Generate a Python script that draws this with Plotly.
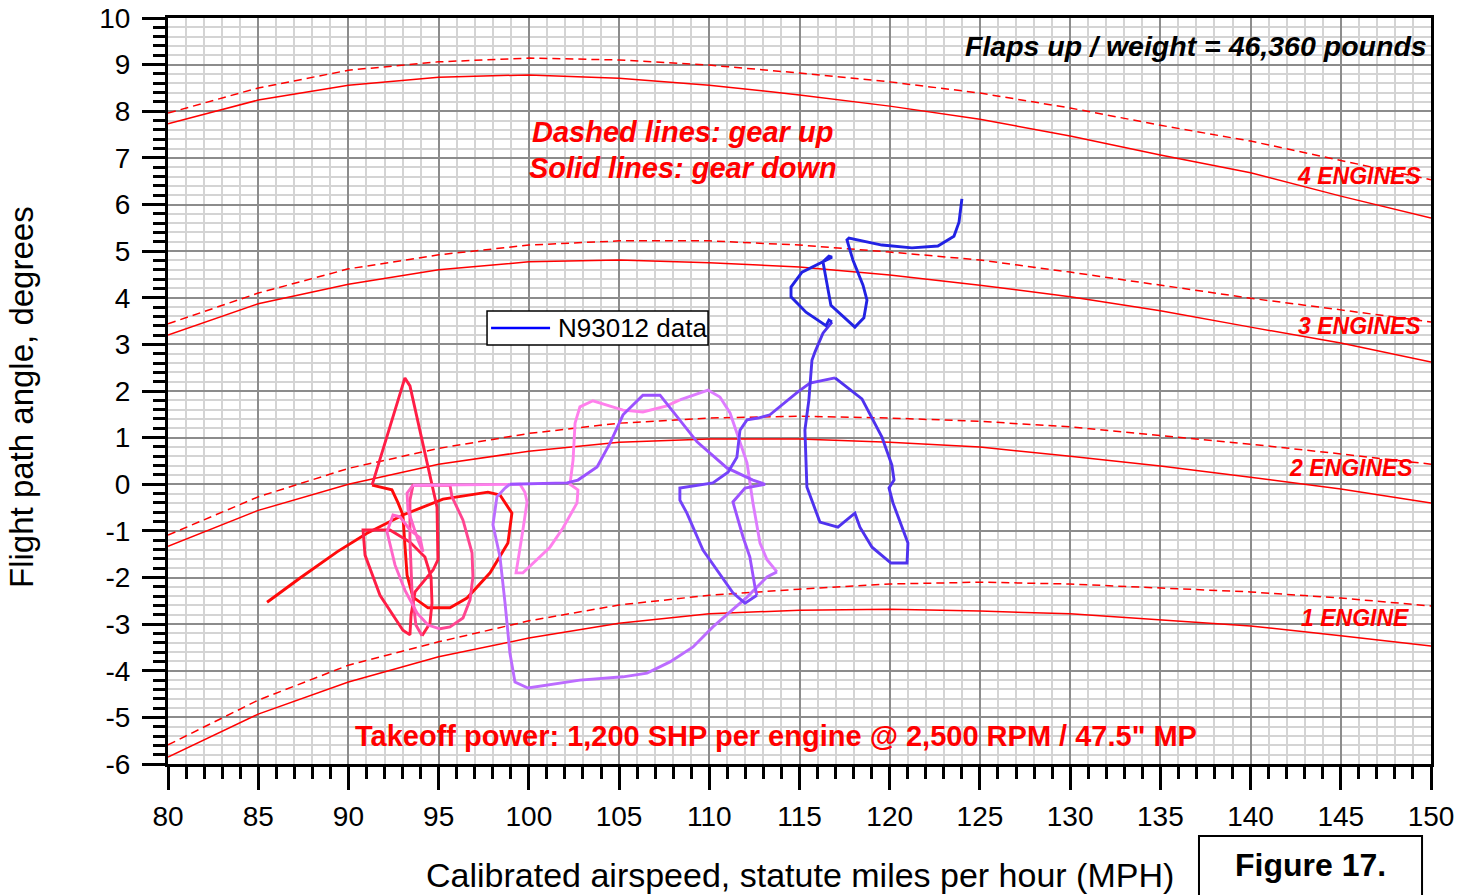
import plotly.graph_objects as go

# ---------------- Engine performance curves ----------------
speed_mph = [80, 85, 90, 95, 100, 105, 110, 115, 120, 125, 130, 135, 140, 145, 150]

eng4_down = [7.73, 8.24, 8.56, 8.73, 8.78, 8.71, 8.56, 8.35, 8.11, 7.83, 7.47, 7.06, 6.68, 6.18, 5.71]
eng4_up   = [7.96, 8.50, 8.88, 9.06, 9.14, 9.10, 8.99, 8.82, 8.63, 8.39, 8.07, 7.70, 7.36, 6.95, 6.53]
eng3_down = [3.20, 3.87, 4.29, 4.60, 4.77, 4.81, 4.75, 4.66, 4.49, 4.27, 4.02, 3.72, 3.37, 3.03, 2.62]
eng3_up   = [3.44, 4.10, 4.62, 4.92, 5.13, 5.22, 5.22, 5.13, 4.98, 4.81, 4.55, 4.27, 3.99, 3.74, 3.48]
eng2_down = [-1.33, -0.56, 0.00, 0.43, 0.71, 0.90, 0.97, 0.97, 0.90, 0.80, 0.60, 0.39, 0.15, -0.10, -0.40]
eng2_up   = [-1.09, -0.27, 0.34, 0.77, 1.09, 1.31, 1.42, 1.46, 1.42, 1.35, 1.23, 1.05, 0.86, 0.65, 0.43]
eng1_down = [-5.85, -4.93, -4.24, -3.70, -3.30, -2.98, -2.78, -2.70, -2.68, -2.72, -2.78, -2.91, -3.04, -3.25, -3.47]
eng1_up   = [-5.59, -4.63, -3.88, -3.38, -2.93, -2.59, -2.38, -2.25, -2.14, -2.10, -2.14, -2.23, -2.31, -2.44, -2.61]

# ---------------- N93012 flight data (pieces in time order) ----------------
red_mph = [85.49, 87.32, 89.37, 91.03, 93.02, 95.24, 97.73, 98.40, 99.06, 98.84, 97.85, 96.57, 95.63,
           94.41, 93.58, 93.25, 93.13, 93.02, 92.75, 92.41, 91.31]
red_deg = [-2.53, -2.01, -1.45, -1.05, -0.66, -0.32, -0.17, -0.23, -0.62, -1.26, -1.90, -2.44, -2.65,
           -2.65, -2.42, -1.95, -1.30, -0.66, -0.40, -0.12, -0.02]

crimson_mph = [91.31, 93.13, 93.41, 94.24, 94.91, 94.96, 94.69, 93.69, 93.47, 93.41, 93.02, 91.75, 90.92,
               90.81, 92.30, 93.41, 94.24, 94.58, 94.63, 94.52, 94.08]
crimson_deg = [-0.02, 2.28, 2.11, 0.67, -0.49, -1.62, -1.84, -2.31, -2.80, -3.23, -3.13, -2.38, -1.52,
               -0.98, -0.98, -1.24, -1.56, -1.99, -2.55, -2.98, -3.25]

hotpink_mph = [94.08, 93.74, 93.52, 93.41, 93.41, 93.58, 95.63, 95.74, 96.35, 96.85, 96.90, 96.74, 96.35,
               95.63, 95.07]
hotpink_deg = [-3.25, -3.02, -2.27, -1.20, -0.34, -0.02, -0.02, -0.27, -0.77, -1.47, -1.99, -2.48, -2.87,
               -3.06, -3.10]

pink_mph = [95.07, 94.41, 93.80, 93.13, 92.58, 92.14, 92.47, 92.86, 93.41, 93.97, 94.13, 93.86, 93.30,
            93.25, 93.58]
pink_deg = [-3.10, -3.02, -2.76, -2.27, -1.73, -1.02, -0.66, -0.70, -0.98, -1.15, -1.45, -1.20, -0.55,
            -0.19, -0.02]

lightpink_mph = [93.58, 97.29, 99.51, 99.78, 99.90, 99.67, 99.51, 99.29, 99.67, 101.17, 101.89, 102.67,
                 102.72, 102.28, 102.45, 102.56, 102.83, 103.55, 105.22, 106.32, 107.65, 108.37]
lightpink_deg = [-0.02, 0.00, 0.00, -0.17, -0.38, -0.98, -1.35, -1.90, -1.90, -1.35, -0.94, -0.40,
                 -0.12, 0.00, 0.52, 1.31, 1.66, 1.79, 1.59, 1.55, 1.68, 1.81]

lilac_mph = [108.37, 109.93, 110.59, 111.15, 111.53, 112.09, 112.42, 112.81, 113.20, 113.75]
lilac_deg = [1.81, 2.02, 1.87, 1.53, 1.10, 0.46, -0.40, -1.26, -1.62, -1.88]

lightviolet_mph = [113.75, 113.20, 112.09, 110.20, 109.10, 107.82, 106.55, 105.22, 102.83, 99.95, 99.23,
                   98.95, 98.68, 98.40, 98.01, 98.23, 98.68, 98.95]
lightviolet_deg = [-1.88, -1.99, -2.42, -3.06, -3.49, -3.81, -4.05, -4.13, -4.20, -4.37, -4.24,
                   -3.62, -2.55, -1.56, -0.87, -0.27, -0.08, 0.00]

violet_mph = [98.95, 102.11, 102.72, 103.78, 104.50, 105.22, 106.32, 107.27, 109.32, 110.98, 112.42,
              113.09, 111.98, 111.31, 111.87, 112.25, 112.53, 112.64]
violet_deg = [0.00, 0.03, 0.09, 0.37, 0.88, 1.49, 1.91, 1.91, 0.91, 0.35, 0.09,
              0.00, -0.08, -0.38, -1.13, -1.56, -2.20, -2.38]

purple_mph = [112.64, 111.98, 111.31, 109.65, 108.76, 108.37, 108.37, 110.20, 111.04, 111.53, 111.70,
              112.09, 112.70, 113.36, 114.91, 115.58, 116.97]
purple_deg = [-2.38, -2.55, -2.33, -1.41, -0.62, -0.34, -0.08, 0.03, 0.26, 0.58, 1.16,
              1.38, 1.42, 1.49, 1.98, 2.17, 2.28]

blueviolet_mph = [116.97, 118.46, 119.57, 120.12, 120.24, 119.96, 120.18, 121.01, 120.96, 120.07, 119.02,
                  118.35, 118.07, 117.13, 116.13, 115.41, 115.30, 115.52, 115.69, 115.86, 116.30, 116.80]
blueviolet_deg = [2.28, 1.83, 1.01, 0.41, 0.09, -0.08, -0.40, -1.26, -1.69, -1.69, -1.35,
                  -0.92, -0.62, -0.92, -0.81, -0.06, 1.16, 1.81, 2.66, 2.84, 3.24, 3.48]

blue_mph = [116.80, 116.63, 116.47, 115.36, 114.53, 114.53, 115.14, 116.52, 116.80, 116.63, 116.30, 116.74,
            118.07, 118.57, 118.74, 118.52, 117.96, 117.63, 117.74, 119.57, 121.23, 122.67, 123.56, 123.84,
            124.00]
blue_deg = [3.48, 3.52, 3.40, 3.69, 4.02, 4.23, 4.55, 4.81, 4.87, 4.89, 4.77, 3.84,
            3.37, 3.57, 3.95, 4.27, 4.81, 5.24, 5.28, 5.13, 5.07, 5.11, 5.32, 5.62,
            6.12]

x_ticks = list(range(80, 151, 5))
y_ticks = list(range(-6, 11, 1))
x_ticktext = [str(v) for v in x_ticks]
y_ticktext = [str(v) for v in y_ticks]   # plain hyphen minus, as in the original

FONT = "Liberation Sans, Arial, sans-serif"
RED = "#FF0000"

fig = go.Figure()

curves = [(eng4_down, eng4_up), (eng3_down, eng3_up), (eng2_down, eng2_up), (eng1_down, eng1_up)]
for down, up in curves:
    fig.add_trace(go.Scatter(x=speed_mph, y=up, mode="lines", showlegend=False, hoverinfo="skip",
                             line=dict(color=RED, width=1.5, dash="8px,5px")))
    fig.add_trace(go.Scatter(x=speed_mph, y=down, mode="lines", showlegend=False, hoverinfo="skip",
                             line=dict(color=RED, width=1.5)))

pieces = [
    (red_mph, red_deg, "#FF0A0A"),
    (crimson_mph, crimson_deg, "#FF1E46"),
    (hotpink_mph, hotpink_deg, "#FF4590"),
    (pink_mph, pink_deg, "#FF66C8"),
    (lightpink_mph, lightpink_deg, "#FF80EC"),
    (lilac_mph, lilac_deg, "#DE7CFF"),
    (lightviolet_mph, lightviolet_deg, "#BC6CFF"),
    (violet_mph, violet_deg, "#9C52FF"),
    (purple_mph, purple_deg, "#7442FA"),
    (blueviolet_mph, blueviolet_deg, "#4E32EE"),
    (blue_mph, blue_deg, "#2222E4"),
]
for xs, ys, col in pieces:
    fig.add_trace(go.Scatter(x=xs, y=ys, mode="lines", showlegend=False,
                             line=dict(color=col, width=2.9)))

axis_common = dict(
    showline=True, linewidth=3, linecolor="black", mirror=True,
    ticks="outside", ticklen=23, tickwidth=3, tickcolor="black",
    showgrid=True, gridcolor="#8c8c8c", gridwidth=1.5,
    zeroline=False, automargin=False,
    tickfont=dict(family=FONT, size=28, color="black"),
)

fig.update_xaxes(range=[80, 150], tickvals=x_ticks, ticktext=x_ticktext, ticklabelstandoff=2,
                 minor=dict(dtick=1, ticks="outside", ticklen=12, tickwidth=3, tickcolor="black",
                            showgrid=True, gridcolor="#d4d4d4", gridwidth=2),
                 **axis_common)
fig.update_yaxes(range=[-6, 10], tickvals=y_ticks, ticktext=y_ticktext, ticklabelstandoff=6,
                 minor=dict(dtick=0.2, ticks="outside", ticklen=12, tickwidth=3, tickcolor="black",
                            showgrid=True, gridcolor="#d4d4d4", gridwidth=2),
                 **axis_common)

annotations = [
    dict(x=149.88, y=9.40, text="<b><i>Flaps up / weight = 46,360 pounds</i></b>", xanchor="right",
         font=dict(size=28.5, color="black")),
    dict(x=108.54, y=7.55, text="<b><i>Dashed lines: gear up</i></b>", font=dict(size=29, color=RED)),
    dict(x=108.54, y=6.78, text="<b><i>Solid lines: gear down</i></b>", font=dict(size=29, color=RED)),
    dict(x=113.7, y=-5.40, text="<b>Takeoff power: 1,200 SHP per engine @ 2,500 RPM / 47.5\" MP</b>",
         font=dict(size=29, color=RED)),
    dict(x=149.55, y=6.61, text="<b><i>4 ENGINES</i></b>", xanchor="right", font=dict(size=23, color=RED)),
    dict(x=149.55, y=3.39, text="<b><i>3 ENGINES</i></b>", xanchor="right", font=dict(size=23, color=RED)),
    dict(x=149.1, y=0.35, text="<b><i>2 ENGINES</i></b>", xanchor="right", font=dict(size=23, color=RED)),
    dict(x=148.9, y=-2.87, text="<b><i>1 ENGINE</i></b>", xanchor="right", font=dict(size=23, color=RED)),
    dict(xref="paper", yref="paper", x=-0.1156, y=0.492, text="Flight path angle, degrees",
         textangle=-90, xanchor="center", yanchor="middle", font=dict(size=33, color="black")),
    dict(xref="paper", yref="paper", x=0.5004, y=-0.1488, xanchor="center", yanchor="middle",
         text="Calibrated airspeed, statute miles per hour (MPH)", font=dict(size=34, color="black")),
    dict(xref="paper", yref="paper", x=0.9042, y=-0.1354, xanchor="center", yanchor="middle",
         text="<b>Figure 17.</b>", font=dict(size=32, color="black")),
    dict(xref="paper", yref="paper", x=0.3072, y=0.5845, xanchor="left", yanchor="middle",
         text="N93012 data", font=dict(size=26, color="black")),
]
for a in annotations:
    a.setdefault("xref", "x")
    a.setdefault("yref", "y")
    a["showarrow"] = False
    a["font"]["family"] = FONT
fig.update_layout(annotations=annotations)

# "Figure 17." frame
fig.add_shape(type="rect", xref="paper", yref="paper", x0=0.8163, x1=0.9929, y0=-0.0965, y1=-0.20,
              line=dict(color="black", width=2), fillcolor="white", layer="above")
# legend frame and key for the data trace
fig.add_shape(type="rect", xref="paper", yref="paper", x0=0.2526, x1=0.4276, y0=0.5617, y1=0.6072,
              line=dict(color="black", width=1.5), fillcolor="white", layer="above")
fig.add_shape(type="line", xref="paper", yref="paper", x0=0.2558, x1=0.3025, y0=0.5845, y1=0.5845,
              line=dict(color="#0000FF", width=2.5), layer="above")

fig.update_layout(
    width=1473, height=895,
    margin=dict(l=168, r=42, t=18, b=131, autoexpand=False),
    paper_bgcolor="white", plot_bgcolor="white",
    font=dict(family=FONT, color="black"),
    showlegend=False,
)

fig.write_html("out.html")
